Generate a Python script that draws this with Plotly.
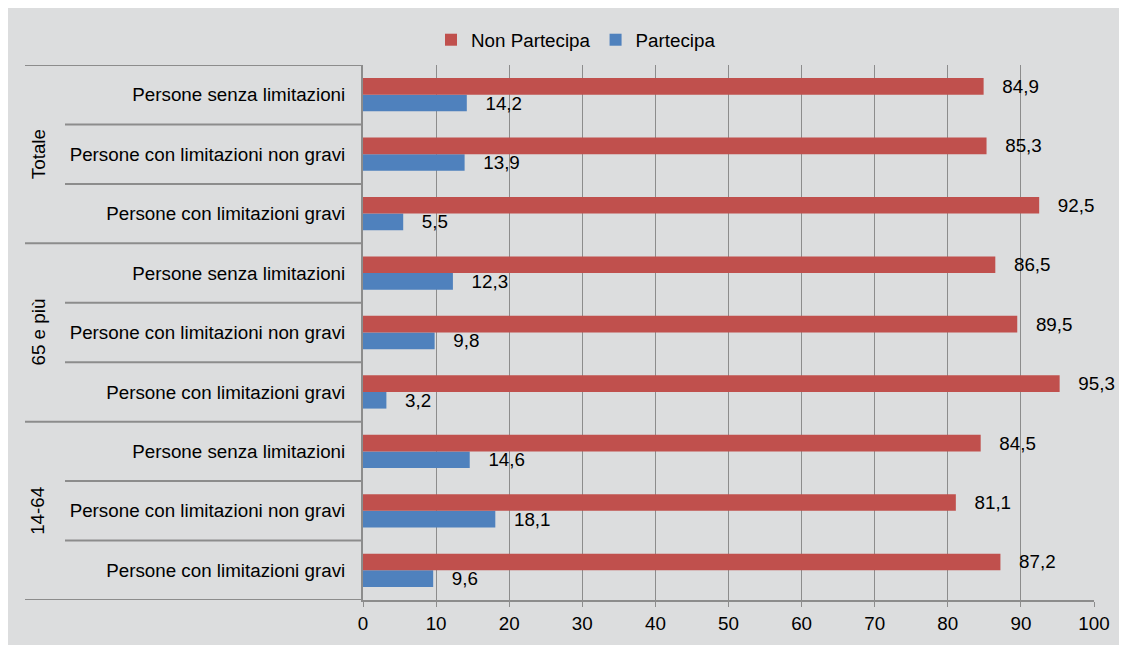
import plotly.graph_objects as go

# Data (bottom to top, as drawn by Excel)
groups = ["14-64", "65 e più", "Totale"]
labels = [
    "Persone con limitazioni gravi",
    "Persone con limitazioni non gravi",
    "Persone senza limitazioni",
]
# order bottom -> top: 14-64 (gravi, non gravi, senza), 65 e più (...), Totale (...)
cat_labels = labels * 3
non_partecipa = [87.2, 81.1, 84.5, 95.3, 89.5, 86.5, 92.5, 85.3, 84.9]
partecipa = [9.6, 18.1, 14.6, 3.2, 9.8, 12.3, 5.5, 13.9, 14.2]
x_ticks = [0, 10, 20, 30, 40, 50, 60, 70, 80, 90, 100]

RED = "#C0504D"
BLUE = "#4F81BD"
BG = "#DCDDDE"
LINE = "#8C8C8C"
FONT = "Liberation Sans, Arial, sans-serif"
FS = 18.8

W, H = 1127, 645
L, R, T, B = 355, 41, 57, 53
pw = W - L - R
ph = H - T - B

pos = list(range(len(cat_labels)))


def fmt(v):
    return "\u00a0\u00a0\u00a0" + f"{v:.1f}".replace(".", ",")


fig = go.Figure()
fig.add_trace(go.Bar(
    y=pos, x=partecipa, orientation="h", name="Partecipa",
    marker=dict(color=BLUE, line=dict(width=0)),
    text=[fmt(v) for v in partecipa], textposition="outside",
    textfont=dict(family=FONT, size=FS, color="#000000"),
    constraintext="none", cliponaxis=False, legendrank=2,
))
fig.add_trace(go.Bar(
    y=pos, x=non_partecipa, orientation="h", name="Non Partecipa",
    marker=dict(color=RED, line=dict(width=0)),
    text=[fmt(v) for v in non_partecipa], textposition="outside",
    textfont=dict(family=FONT, size=FS, color="#000000"),
    constraintext="none", cliponaxis=False, legendrank=1,
))

shapes = []
# category separators
n = len(cat_labels)
for i in range(n + 1):
    yv = i - 0.5
    long_line = (i % 3 == 0)
    x0px = 17 if long_line else 57
    shapes.append(dict(type="line", xref="paper", yref="y",
                       x0=(x0px - L) / pw, x1=0, y0=yv, y1=yv,
                       line=dict(color=LINE, width=2), layer="above"))

annotations = []
for gi, g in enumerate(groups):
    annotations.append(dict(
        text=g, xref="paper", yref="y", x=(30 - L) / pw, y=gi * 3 + 1,
        textangle=-90, showarrow=False, xanchor="center", yanchor="middle",
        font=dict(family=FONT, size=FS, color="#000000"),
    ))

fig.update_layout(
    width=W, height=H,
    margin=dict(l=L, r=R, t=T, b=B, autoexpand=False),
    paper_bgcolor=BG,
    plot_bgcolor=BG,
    barmode="group",
    bargap=0.44,
    bargroupgap=0,
    font=dict(family=FONT, size=FS, color="#000000"),
    legend=dict(orientation="h", x=(568 - L) / pw, xanchor="center",
                y=1 + (T - 32) / ph, yanchor="middle",
                bgcolor="rgba(0,0,0,0)", font=dict(family=FONT, size=FS),
                itemwidth=30, tracegroupgap=0),
    shapes=shapes,
    annotations=annotations,
    xaxis=dict(range=[0, 100], tickvals=x_ticks,
               ticktext=[str(t) for t in x_ticks],
               showgrid=True, gridcolor=LINE, gridwidth=1,
               zeroline=False, showline=True, linecolor=LINE, linewidth=2,
               ticks="outside", ticklen=5, tickcolor=LINE, tickwidth=1,
               tickfont=dict(family=FONT, size=FS, color="#000000"),
               fixedrange=True),
    yaxis=dict(range=[-0.5, n - 0.5], tickvals=pos, ticktext=cat_labels,
               showgrid=False, zeroline=False, showline=True,
               linecolor=LINE, linewidth=2, ticks="",
               ticklabelstandoff=12,
               tickfont=dict(family=FONT, size=FS, color="#000000"),
               fixedrange=True),
)

fig.write_html(
    "out.html",
    post_script="document.documentElement.style.overflow='hidden';"
                "document.body.style.overflow='hidden';",
)
